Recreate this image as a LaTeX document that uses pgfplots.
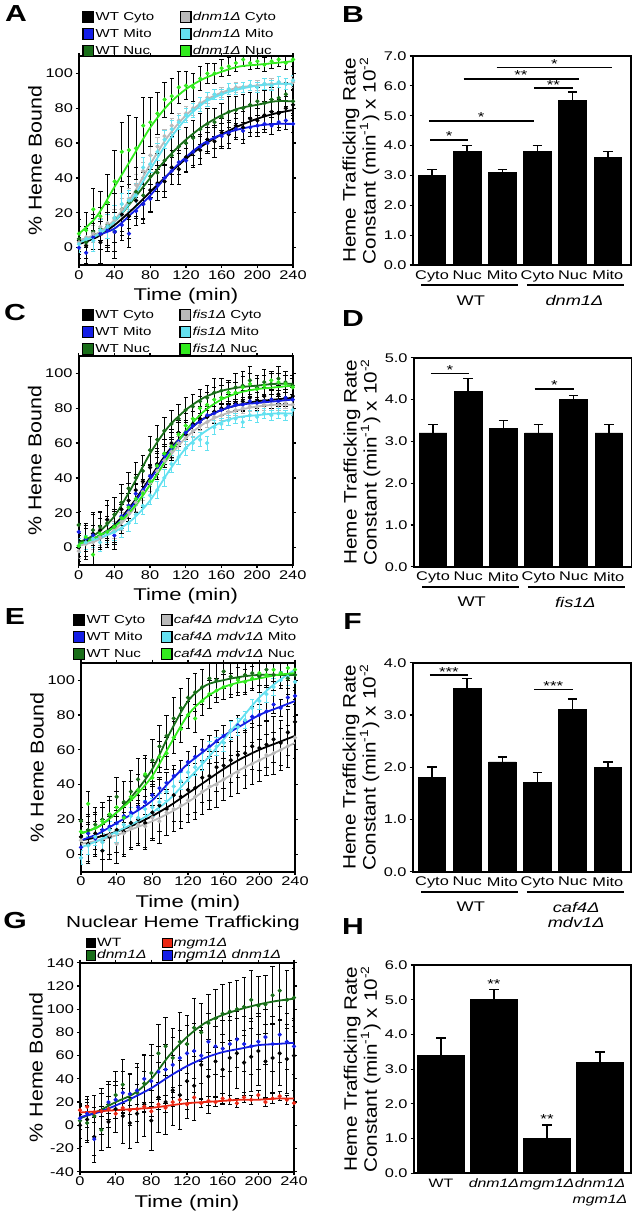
\documentclass[border=0pt]{standalone}
\usepackage{fontspec}
\setmainfont{Liberation Sans}
\usepackage{pgfplots}
\usepackage{pgfplotstable}
\pgfplotsset{compat=1.18}

\definecolor{cblue}{RGB}{20,30,230}
\definecolor{cdgreen}{RGB}{25,110,25}
\definecolor{cgrey}{RGB}{185,185,185}
\definecolor{ccyan}{RGB}{100,225,240}
\definecolor{cgreen}{RGB}{50,235,30}
\definecolor{cred}{RGB}{235,40,20}

% the lettering of the figure is wide: text nodes get xscale
\pgfplotsset{
  sqleg/.style={legend image code/.code={\draw[##1,draw=black,line width=0.6pt] (0pt,-#1) rectangle (2*#1,#1);}},
  sqleg/.default=2.7pt,
  ser/.style={forget plot, only marks, mark=*, mark size=0.85pt,
    error bars/.cd, y dir=both, y explicit,
    error bar style={line width=0.45pt, #1},
    error mark options={rotate=90, mark size=1.1pt, line width=0.45pt, #1}},
  ser/.default=black,
  fit/.style={forget plot, no marks, smooth, line width=0.9pt},
  base/.style={scale only axis, axis line style={line width=0.9pt},
    tick align=outside, major tick length=1.5pt, tick style={black, line width=0.6pt},
    tick label style={font=\fontsize{6.3}{7}\selectfont, xscale=1.3},
    /pgf/number format/assume math mode=true,
    xticklabel style={inner sep=1pt}, yticklabel style={inner sep=1pt}},
  timeax/.style={base, width=107pt, height=104.5pt,
    xmin=0, xmax=240, ymin=-10, ymax=110,
    xtick={0,40,...,240}, ytick={0,20,...,100},
    xlabel={Time (min)}, ylabel={\% Heme Bound},
    xlabel style={font=\fontsize{8.5}{9}\selectfont, at={(axis description cs:0.5,-0.148)}, anchor=center, xscale=1.3},
    ylabel style={font=\fontsize{9.3}{10}\selectfont, at={(axis description cs:-0.206,0.5)}, anchor=center, xscale=1.15},
    legend cell align=left, transpose legend, legend columns=3,
    legend style={draw=none, fill=none, inner sep=0pt, font=\fontsize{5.8}{7}\selectfont,
      nodes={inner sep=0.5pt, text height=4.5pt, text depth=1.3pt, xscale=1.3}, row sep=1.7pt,
      /tikz/every even column/.append style={column sep=12pt}}},
  barax/.style={base, width=109pt, height=104.5pt, clip=false,
    xmin=-0.55, xmax=5.65, ymin=0,
    xtick={0,...,5}, xticklabels={Cyto,Nuc,Mito,Cyto,Nuc,Mito},
    xtick style={draw=none},
    yticklabel style={/pgf/number format/.cd, fixed, fixed zerofill, precision=1},
    ylabel={Heme Trafficking Rate\\Constant (min\textsuperscript{-1}) x 10\textsuperscript{-2}},
    ylabel style={font=\fontsize{9}{10}\selectfont, align=center, at={(axis description cs:-0.237,0.5)}, anchor=center, xscale=1.15}},
  bars/.style={ybar, fill=black, draw=black,
    error bars/.cd, y dir=plus, y explicit,
    error bar style={line width=0.8pt},
    error mark options={rotate=90, mark size=2.4pt, line width=0.8pt}},
}

% significance bar: x1, x2, y, xmid, stars
\newcommand{\sig}[5]{%
  \draw[line width=0.8pt] (axis cs:#1,#3) -- (axis cs:#2,#3);
  \node[font=\fontsize{6.5}{6.5}\selectfont, inner sep=0pt, yshift=1.8pt, xscale=1.3] at (axis cs:#4,#3) {#5};}
\newcommand{\grp}[4]{%
  \draw[line width=0.9pt] ([yshift=-10pt]axis cs:#1,0) -- ([yshift=-10pt]axis cs:#2,0);
  \node[font=\fontsize{7}{8.5}\selectfont, align=center, anchor=north, inner sep=0pt, xscale=1.3] at ([yshift=-15pt]axis cs:#3,0) {#4};}

% panel A
\pgfplotstableread{
t wc wm wn dc dm dn ec em en edc edm edn
0 4 0 5 3 2 8 8 6 7 4 5 8
8 1 -3 3 6 5 10 10 8 9 4 5 10
16 8 6 9 8 4 22 9 8 10 5 6 12
24 3 8 11 12 10 18 12 9 12 5 6 14
32 12 10 13 14 12 26 14 10 12 5 7 16
40 9 9 17 16 17 38 15 11 14 6 7 18
48 19 13 22 22 25 55 12 9 13 6 6 17
56 18 8 26 28 27 56 13 8 15 6 6 20
64 27 21 32 36 30 57 10 8 14 6 7 18
72 25 25 30 44 46 70 11 9 13 5 6 16
80 33 28 41 53 48 72 12 8 12 5 5 14
88 37 36 43 58 55 77 10 9 11 5 5 12
96 38 40 50 64 62 85 9 8 10 4 5 10
104 46 44 53 70 68 87 10 8 11 4 5 10
112 45 49 58 73 72 92 9 7 10 4 4 9
120 52 50 60 77 76 93 8 7 9 4 4 8
128 55 55 63 80 79 92 9 8 10 4 4 8
136 56 58 68 83 82 97 8 7 9 3 4 7
144 62 60 71 86 85 100 7 6 9 3 4 6
152 61 63 72 88 88 100 9 6 8 3 3 6
160 66 64 75 89 88 103 8 7 8 3 3 5
168 65 66 78 91 91 104 8 6 9 3 3 5
176 70 68 79 92 91 106 7 6 8 3 3 5
184 69 67 80 92 92 108 9 5 8 3 3 4
192 74 69 82 93 93 106 8 5 7 3 3 4
200 73 70 84 93 92 107 7 6 8 3 3 4
208 76 71 83 94 94 105 8 5 7 3 3 4
216 78 70 85 94 93 107 7 5 7 3 3 4
224 77 72 86 95 95 108 8 5 8 3 3 4
232 80 73 88 94 94 106 7 5 7 3 3 4
240 82 71 84 95 96 108 8 5 7 3 3 4
}\tabA
\pgfplotstableread{
t wc wm wn dc dm dn
0 2 4 3 4 3 8
20 6 7 7 8 7 18
40 13 11 15 16 15 35
60 22 20 27 30 28 52
80 32 30 40 48 45 69
100 42 42 52 64 61 82
120 51 52 62 76 74 91
140 59 60 70 84 83 97
160 65 65 76 89 88 101
180 70 68 80 92 91 104
200 74 70 82 93 93 105
220 77 71 84 94 94 106
240 79 71 84 94 94 107
}\fitA

% panel C
\pgfplotstableread{
t wc wm wn fc fm fn ec em en efc efm efn
0 0 9 13 -2 1 1 8 5 8 4 4 6
8 4 5 3 2 3 6 9 6 10 4 4 8
16 8 7 10 3 5 -4 12 6 9 4 5 9
24 10 6 12 6 3 8 10 7 9 5 5 9
32 16 9 14 8 8 9 11 7 10 5 5 9
40 12 7 19 10 9 12 10 8 10 5 5 9
48 22 18 26 15 11 17 9 7 10 5 5 9
56 27 24 34 20 14 23 10 7 9 5 5 8
64 33 31 40 26 19 28 9 6 9 5 5 8
72 38 33 44 32 24 31 9 6 9 5 5 8
80 46 41 56 37 30 38 10 6 8 5 5 8
88 48 47 62 44 33 47 9 5 8 4 5 8
96 54 53 67 50 40 54 8 5 8 4 5 8
104 60 57 71 55 48 58 8 5 8 4 5 8
112 66 61 74 60 52 65 7 5 8 4 4 7
120 65 66 79 63 57 70 8 4 7 4 4 7
128 71 70 81 67 60 74 7 4 7 4 4 7
136 74 72 84 70 62 80 7 4 7 3 4 7
144 75 76 86 72 60 82 6 4 7 3 4 7
152 78 77 89 75 69 85 7 4 8 3 4 7
160 80 79 90 76 71 86 6 3 7 3 3 7
168 82 81 89 78 73 89 6 3 7 3 3 6
176 83 82 92 79 74 89 5 3 8 3 3 6
184 84 82 93 80 72 92 6 3 8 3 3 6
192 86 84 96 81 76 94 5 3 8 3 3 6
200 84 83 92 81 75 91 5 3 7 3 3 6
208 87 84 95 82 77 93 5 3 7 3 3 6
216 85 85 94 82 76 96 5 3 6 3 3 5
224 88 84 97 82 77 95 5 3 7 3 3 5
232 86 86 95 83 76 94 5 3 6 3 3 5
240 87 85 93 82 79 92 5 3 6 3 3 5
}\tabC
\pgfplotstableread{
t wc wm wn fc fm fn
0 2 3 3 1 2 2
20 6 6 8 4 5 6
40 13 12 18 10 9 12
60 25 24 35 21 16 22
80 40 39 54 36 27 36
100 55 54 69 51 43 52
120 66 66 79 63 57 67
140 74 74 86 71 66 78
160 79 79 90 76 72 85
180 82 82 92 79 75 89
200 84 83 93 81 76 91
220 85 84 94 82 77 92
240 86 85 94 82 77 93
}\fitC

% panel E
\pgfplotstableread{
t wc wm wn gc gm gn ec em en egc egm egn
0 10 4 19 8 -2 13 10 6 8 8 4 6
8 6 12 14 5 5 29 11 6 9 9 5 7
16 12 9 17 9 10 15 12 6 10 10 5 8
24 2 14 20 7 7 19 12 6 10 10 5 8
32 10 16 22 11 14 23 13 7 11 11 5 8
40 14 18 33 6 12 27 13 7 11 11 5 9
48 13 22 30 12 17 21 14 7 12 12 5 9
56 18 24 36 15 22 33 14 7 12 12 5 9
64 20 27 43 17 21 37 14 7 12 12 5 9
72 18 30 45 16 26 46 15 7 12 12 5 9
80 24 34 54 21 27 44 15 6 12 13 5 9
88 28 38 62 19 30 56 15 6 12 13 5 9
96 26 41 68 24 36 58 15 6 12 13 5 9
104 34 45 78 26 39 67 15 6 12 13 5 9
112 33 48 84 28 42 72 14 6 11 13 5 8
120 37 53 90 31 47 80 14 6 11 13 5 8
128 38 56 93 33 50 78 14 6 11 13 5 8
136 44 60 96 36 53 88 14 6 10 13 5 8
144 45 62 101 39 60 92 14 6 10 13 5 8
152 50 65 100 40 62 94 14 6 10 13 5 7
160 51 68 105 43 64 96 13 6 10 12 5 7
168 54 71 102 45 71 97 13 6 10 12 5 7
176 57 74 101 47 73 100 13 6 10 12 5 7
184 58 76 103 50 77 99 13 6 10 12 5 7
192 62 79 104 52 84 101 13 6 9 12 5 7
200 61 80 102 54 88 104 13 6 9 12 5 7
208 63 82 106 57 92 103 13 5 9 12 5 7
216 66 86 103 58 96 106 13 5 9 12 5 7
224 64 84 104 60 100 104 13 5 9 12 5 7
232 70 90 101 62 102 107 13 5 9 12 5 7
240 76 91 103 67 99 106 13 5 9 12 5 7
}\tabE
\pgfplotstableread{
t wc wm wn gc gm gn
0 8 8 12 6 4 12
20 10 12 16 8 8 16
40 13 18 24 11 13 24
60 17 24 35 15 18 33
80 22 31 49 19 24 45
100 28 42 70 24 32 63
120 35 52 88 30 43 80
140 42 60 97 37 54 90
160 49 68 100 43 66 96
180 55 74 102 49 78 99
200 60 80 103 54 90 101
220 64 84 103 59 99 103
240 68 88 103 64 106 104
}\fitE

% panel G
\pgfplotstableread{
t w d r b ew ed er eb
0 0 4 13 6 18 15 4 10
8 5 2 16 10 20 15 4 12
16 -10 8 11 -12 22 18 4 14
24 12 -4 12 12 20 18 4 15
32 3 18 14 20 22 20 4 15
40 14 26 10 22 20 20 4 16
48 8 35 15 28 24 22 4 18
56 2 22 13 27 22 22 4 18
64 10 28 14 30 25 25 4 20
72 18 36 16 40 28 25 4 20
80 4 45 12 38 26 25 4 22
88 24 62 18 46 30 25 4 22
96 20 68 15 48 28 25 4 22
104 30 58 20 52 30 25 4 24
112 26 72 22 58 30 25 4 24
120 38 70 18 62 32 25 4 24
128 34 84 24 64 30 25 4 24
136 52 80 19 60 30 25 4 24
144 42 88 21 72 32 25 4 24
152 55 92 20 68 30 25 4 24
160 48 96 23 66 30 25 4 24
168 58 98 22 70 32 25 4 24
176 62 100 19 74 30 25 4 24
184 54 102 24 70 28 25 4 24
192 59 108 22 68 30 25 4 24
200 64 103 26 72 30 25 4 24
208 55 104 20 76 32 25 4 24
216 58 112 23 70 30 25 4 24
224 62 116 25 78 28 25 4 24
232 57 108 22 72 30 25 4 24
240 60 110 19 68 30 25 4 24
}\tabG
\pgfplotstableread{
t w d r b
0 8 6 11 7
20 9 12 12 11
40 10 20 13 17
60 14 27 14 24
80 20 40 15 32
100 27 60 17 42
120 35 76 19 51
140 43 88 20 58
160 50 95 21 63
180 54 100 22 66
200 57 104 22 69
220 59 107 23 70
240 60 109 23 71
}\fitG

\begin{document}
\begin{tikzpicture}
\useasboundingbox (0,0) rectangle (316pt,-608.5pt);
\tikzset{panel/.style={font=\fontsize{11.6}{12}\selectfont\bfseries, inner sep=0pt, xscale=1.3}}
\node[panel] at (8pt,-7pt) {A};
\node[panel] at (176.5pt,-7.5pt) {B};
\node[panel] at (7.5pt,-156.5pt) {C};
\node[panel] at (176.5pt,-159.3pt) {D};
\node[panel] at (7.5pt,-308.3pt) {E};
\node[panel] at (176.3pt,-311pt) {F};
\node[panel] at (7.5pt,-460.3pt) {G};
\node[panel] at (176.5pt,-463.5pt) {H};

% ---- A
\begin{axis}[timeax, at={(39.5pt,-132.5pt)}, anchor=south west,
  legend style={at={(axis description cs:0.014,0.99)}, anchor=south west}]
\addlegendimage{sqleg, fill=black}\addlegendentry{WT Cyto}
\addlegendimage{sqleg, fill=cblue}\addlegendentry{WT Mito}
\addlegendimage{sqleg, fill=cdgreen}\addlegendentry{WT Nuc}
\addlegendimage{sqleg, fill=cgrey}\addlegendentry{\textit{dnm1Δ} Cyto}
\addlegendimage{sqleg, fill=ccyan}\addlegendentry{\textit{dnm1Δ} Mito}
\addlegendimage{sqleg, fill=cgreen}\addlegendentry{\textit{dnm1Δ} Nuc}
\addplot[black, ser] table[x=t, y=wc, y error=ec] {\tabA};
\addplot[cblue, ser] table[x=t, y=wm, y error=em] {\tabA};
\addplot[cdgreen, ser] table[x=t, y=wn, y error=en] {\tabA};
\addplot[cgrey, ser=cgrey] table[x=t, y=dc, y error=edc] {\tabA};
\addplot[ccyan, ser=ccyan] table[x=t, y=dm, y error=edm] {\tabA};
\addplot[cgreen, ser] table[x=t, y=dn, y error=edn] {\tabA};
\addplot[black, fit] table[x=t, y=wc] {\fitA};
\addplot[cblue, fit] table[x=t, y=wm] {\fitA};
\addplot[cdgreen, fit] table[x=t, y=wn] {\fitA};
\addplot[cgrey, fit] table[x=t, y=dc] {\fitA};
\addplot[ccyan, fit] table[x=t, y=dm] {\fitA};
\addplot[cgreen, fit] table[x=t, y=dn] {\fitA};
\end{axis}

% ---- B
\begin{axis}[barax, at={(206.35pt,-132.5pt)}, anchor=south west, ymax=7, ytick={0,...,7}]
\addplot[bar width=13.8pt, bars] table[x=x, y=y, y error=e] {
x y e
0 3.0 0.2
1 3.8 0.2
2 3.1 0.1
3 3.8 0.2
4 5.5 0.3
5 3.6 0.2
};
\sig{-0.05}{1.03}{4.19}{0.49}{*}
\sig{-0.09}{2.9}{4.83}{1.4}{*}
\sig{2.9}{4.0}{5.92}{3.45}{**}
\sig{0.9}{4.17}{6.24}{2.53}{**}
\sig{1.84}{5.13}{6.61}{3.48}{*}
\grp{-0.3}{2.45}{1.1}{WT}
\grp{2.7}{5.45}{4.05}{\textit{dnm1Δ}}
\end{axis}

% ---- C
\begin{axis}[timeax, at={(39.35pt,-282.5pt)}, anchor=south west,
  legend style={at={(axis description cs:0.014,1.0)}, anchor=south west}]
\addlegendimage{sqleg, fill=black}\addlegendentry{WT Cyto}
\addlegendimage{sqleg, fill=cblue}\addlegendentry{WT Mito}
\addlegendimage{sqleg, fill=cdgreen}\addlegendentry{WT Nuc}
\addlegendimage{sqleg, fill=cgrey}\addlegendentry{\textit{fis1Δ} Cyto}
\addlegendimage{sqleg, fill=ccyan}\addlegendentry{\textit{fis1Δ} Mito}
\addlegendimage{sqleg, fill=cgreen}\addlegendentry{\textit{fis1Δ} Nuc}
\addplot[black, ser] table[x=t, y=wc, y error=ec] {\tabC};
\addplot[cblue, ser] table[x=t, y=wm, y error=em] {\tabC};
\addplot[cdgreen, ser] table[x=t, y=wn, y error=en] {\tabC};
\addplot[cgrey, ser=cgrey] table[x=t, y=fc, y error=efc] {\tabC};
\addplot[ccyan, ser=ccyan] table[x=t, y=fm, y error=efm] {\tabC};
\addplot[cgreen, ser] table[x=t, y=fn, y error=efn] {\tabC};
\addplot[black, fit] table[x=t, y=wc] {\fitC};
\addplot[cblue, fit] table[x=t, y=wm] {\fitC};
\addplot[cdgreen, fit] table[x=t, y=wn] {\fitC};
\addplot[cgrey, fit] table[x=t, y=fc] {\fitC};
\addplot[ccyan, fit] table[x=t, y=fm] {\fitC};
\addplot[cgreen, fit] table[x=t, y=fn] {\fitC};
\end{axis}

% ---- D
\begin{axis}[barax, at={(206.85pt,-283.35pt)}, anchor=south west, ymax=5, ytick={0,...,5}]
\addplot[bar width=13.8pt, bars] table[x=x, y=y, y error=e] {
x y e
0 3.2 0.2
1 4.2 0.3
2 3.3 0.2
3 3.2 0.2
4 4.0 0.1
5 3.2 0.2
};
\sig{-0.06}{1.02}{4.62}{0.48}{*}
\sig{2.89}{4.0}{4.25}{3.45}{*}
\grp{-0.3}{2.45}{1.1}{WT}
\grp{2.7}{5.45}{4.05}{\textit{fis1Δ}}
\end{axis}

% ---- E
\begin{axis}[timeax, at={(40.5pt,-435.85pt)}, anchor=south west,
  legend style={at={(axis description cs:-0.038,1.006)}, anchor=south west,
    /tikz/every even column/.append style={column sep=7pt}}]
\addlegendimage{sqleg, fill=black}\addlegendentry{WT Cyto}
\addlegendimage{sqleg, fill=cblue}\addlegendentry{WT Mito}
\addlegendimage{sqleg, fill=cdgreen}\addlegendentry{WT Nuc}
\addlegendimage{sqleg, fill=cgrey}\addlegendentry{\textit{caf4Δ mdv1Δ} Cyto}
\addlegendimage{sqleg, fill=ccyan}\addlegendentry{\textit{caf4Δ mdv1Δ} Mito}
\addlegendimage{sqleg, fill=cgreen}\addlegendentry{\textit{caf4Δ mdv1Δ} Nuc}
\addplot[black, ser] table[x=t, y=wc, y error=ec] {\tabE};
\addplot[cgrey, ser] table[x=t, y=gc, y error=egc] {\tabE};
\addplot[cblue, ser] table[x=t, y=wm, y error=em] {\tabE};
\addplot[ccyan, ser=ccyan] table[x=t, y=gm, y error=egm] {\tabE};
\addplot[cdgreen, ser] table[x=t, y=wn, y error=en] {\tabE};
\addplot[cgreen, ser] table[x=t, y=gn, y error=egn] {\tabE};
\addplot[black, fit] table[x=t, y=wc] {\fitE};
\addplot[cgrey, fit] table[x=t, y=gc] {\fitE};
\addplot[cblue, fit] table[x=t, y=wm] {\fitE};
\addplot[ccyan, fit] table[x=t, y=gm] {\fitE};
\addplot[cdgreen, fit] table[x=t, y=wn] {\fitE};
\addplot[cgreen, fit] table[x=t, y=gn] {\fitE};
\end{axis}

% ---- F
\begin{axis}[barax, at={(206.35pt,-435.85pt)}, anchor=south west, ymax=4, ytick={0,...,4}]
\addplot[bar width=13.8pt, bars] table[x=x, y=y, y error=e] {
x y e
0 1.8 0.2
1 3.5 0.2
2 2.1 0.1
3 1.7 0.2
4 3.1 0.2
5 2.0 0.1
};
\sig{-0.06}{1.02}{3.76}{0.48}{***}
\sig{2.9}{4.0}{3.49}{3.45}{***}
\grp{-0.3}{2.45}{1.1}{WT}
\grp{2.7}{5.45}{4.1}{\textit{caf4Δ}\\[-1pt]\textit{mdv1Δ}}
\end{axis}

% ---- G
\node[font=\fontsize{8}{8}\selectfont, xscale=1.3] at (91.5pt,-461.5pt) {Nuclear Heme Trafficking};
\begin{axis}[timeax, at={(40pt,-585.85pt)}, anchor=south west,
  ymin=-40, ymax=140, ytick={-40,-20,...,140}, legend columns=2,
  legend style={at={(axis description cs:0.024,1.003)}, anchor=south west,
    nodes={inner sep=0.3pt, text height=4.3pt, text depth=1.2pt}, row sep=0.2pt,
    font=\fontsize{6}{7}\selectfont,
    /tikz/every even column/.append style={column sep=7.3pt}}]
\addlegendimage{sqleg=2.4pt, fill=black}\addlegendentry{WT}
\addlegendimage{sqleg=2.4pt, fill=cdgreen}\addlegendentry{\textit{dnm1Δ}}
\addlegendimage{sqleg=2.4pt, fill=cred}\addlegendentry{\textit{mgm1Δ}}
\addlegendimage{sqleg=2.4pt, fill=cblue}\addlegendentry{\textit{mgm1Δ dnm1Δ}}
\addplot[black, ser] table[x=t, y=w, y error=ew] {\tabG};
\addplot[cdgreen, ser] table[x=t, y=d, y error=ed] {\tabG};
\addplot[cblue, ser] table[x=t, y=b, y error=eb] {\tabG};
\addplot[cred, ser] table[x=t, y=r, y error=er] {\tabG};
\addplot[cdgreen, fit] table[x=t, y=d] {\fitG};
\addplot[cblue, fit] table[x=t, y=b] {\fitG};
\addplot[cred, fit] table[x=t, y=r] {\fitG};
\end{axis}

% ---- H
\begin{axis}[barax, at={(206.85pt,-586.65pt)}, anchor=south west, width=108.65pt, height=104.15pt,
  xmin=-0.514, xmax=3.584, ymax=6, ytick={0,...,6}, xtick={0,...,3},
  xticklabels={WT, \textit{dnm1Δ}, \textit{mgm1Δ}, \textit{dnm1Δ}\\[1pt]\textit{mgm1Δ}},
  xticklabel style={align=center, font=\fontsize{6.1}{7}\selectfont}]
\addplot[bar width=23.3pt, bars] table[x=x, y=y, y error=e] {
x y e
0 3.4 0.5
1 5.0 0.3
2 1.0 0.4
3 3.2 0.3
};
\node[font=\fontsize{6.5}{6.5}\selectfont, inner sep=0pt, yshift=-1.3pt, xscale=1.3] at (axis cs:1,5.52) {**};
\node[font=\fontsize{6.5}{6.5}\selectfont, inner sep=0pt, yshift=-1.3pt, xscale=1.3] at (axis cs:2,1.63) {**};
\end{axis}
\end{tikzpicture}
\end{document}
